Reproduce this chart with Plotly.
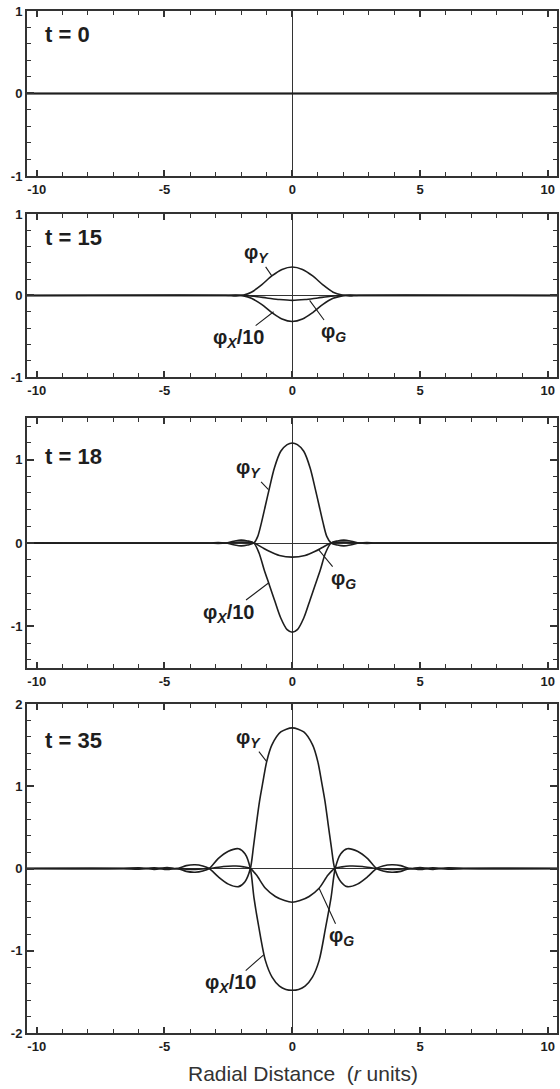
import plotly.graph_objects as go

# ── Profiles (phi_X is shown divided by 10) ──────────────────────────────
TIMES = [0, 15, 18, 35]

R_T0 = [-10.4, 10.4]
PHI_T0 = [0.0, 0.0]

R_T15_Y = [-10.4, -2.6, -2.2, -1.9, -1.6, -1.2, -0.8, -0.4, 0, 0.4, 0.8, 1.2, 1.6, 1.95, 2.25, 2.6, 10.4]
PHI_T15_Y = [0, 0, -0.005, 0.005, 0.04, 0.13, 0.24, 0.32, 0.35, 0.32, 0.24, 0.13, 0.04, 0.005, -0.005, 0, 0]
R_T15_X = [-10.4, -2.6, -2.2, -1.9, -1.6, -1.2, -0.8, -0.4, 0, 0.4, 0.8, 1.2, 1.6, 1.95, 2.25, 2.6, 10.4]
PHI_T15_X = [0, 0, 0.005, -0.005, -0.035, -0.11, -0.21, -0.29, -0.32, -0.29, -0.21, -0.11, -0.035, -0.005, 0.005, 0, 0]
R_T15_G = [-10.4, -1.9, -1.5, -1.0, -0.5, 0, 0.5, 1.0, 1.5, 1.9, 10.4]
PHI_T15_G = [0, 0, -0.01, -0.03, -0.05, -0.06, -0.05, -0.03, -0.01, 0, 0]

R_T18_Y = [-10.4, -3.3, -2.9, -2.6, -2.3, -2.0, -1.75, -1.5, -1.35, -1.2, -1.05, -0.9, -0.7, -0.45, -0.2, 0,
           0.2, 0.45, 0.7, 0.9, 1.05, 1.2, 1.35, 1.52, 1.77, 2.02, 2.32, 2.62, 2.92, 3.3, 10.4]
PHI_T18_Y = [0, 0, 0.004, 0, -0.02, -0.035, -0.025, 0, 0.08, 0.25, 0.45, 0.65, 0.9, 1.1, 1.18, 1.2,
             1.18, 1.1, 0.9, 0.65, 0.45, 0.25, 0.08, 0, -0.025, -0.035, -0.02, 0, 0.004, 0, 0]
R_T18_X = [-10.4, -3.3, -2.9, -2.6, -2.3, -2.0, -1.75, -1.5, -1.3, -1.1, -0.9, -0.7, -0.45, -0.2, 0,
           0.2, 0.45, 0.7, 0.9, 1.1, 1.3, 1.52, 1.77, 2.02, 2.32, 2.62, 2.92, 3.3, 10.4]
PHI_T18_X = [0, 0, -0.004, 0, 0.02, 0.035, 0.025, 0, -0.12, -0.32, -0.5, -0.68, -0.9, -1.04, -1.07,
             -1.04, -0.9, -0.68, -0.5, -0.32, -0.12, 0, 0.025, 0.035, 0.02, 0, -0.004, 0, 0]
R_T18_G = [-10.4, -2.6, -2.0, -1.5, -1.2, -0.9, -0.5, 0, 0.5, 0.9, 1.2, 1.52, 2.02, 2.62, 10.4]
PHI_T18_G = [0, 0, 0.01, 0, -0.05, -0.1, -0.15, -0.17, -0.15, -0.1, -0.05, 0, 0.01, 0, 0]

R_T35_Y = [-10.4, -6.6, -6.0, -5.4, -4.9, -4.5, -4.15, -3.8, -3.5, -3.25, -2.9, -2.5, -2.1, -1.85, -1.64,
           -1.52, -1.4, -1.28, -1.15, -1.0, -0.8, -0.45, 0, 0.45, 0.8, 1.0, 1.15, 1.28, 1.4, 1.53, 1.66,
           1.9, 2.15, 2.55, 2.95, 3.3, 3.55, 3.9, 4.25, 4.6, 5.0, 5.5, 6.1, 6.7, 10.4]
PHI_T35_Y = [0, 0, 0.008, -0.01, 0.012, 0, 0.035, 0.045, 0.03, 0, -0.1, -0.19, -0.22, -0.16, 0,
             0.26, 0.55, 0.82, 1.05, 1.3, 1.5, 1.66, 1.71, 1.66, 1.5, 1.3, 1.05, 0.82, 0.55, 0.26, 0,
             -0.16, -0.22, -0.19, -0.1, 0, 0.03, 0.045, 0.035, 0, 0.012, -0.01, 0.008, 0, 0]
R_T35_X = [-10.4, -6.6, -6.0, -5.4, -4.9, -4.5, -4.15, -3.8, -3.5, -3.25, -2.9, -2.5, -2.1, -1.85, -1.64,
           -1.5, -1.31, -1.05, -0.79, -0.5, -0.25, 0, 0.25, 0.5, 0.79, 1.05, 1.31, 1.52, 1.68, 1.9, 2.15,
           2.55, 2.95, 3.3, 3.55, 3.9, 4.25, 4.6, 5.0, 5.5, 6.1, 6.7, 10.4]
PHI_T35_X = [0, 0, -0.008, 0.01, -0.012, 0, -0.035, -0.045, -0.03, 0, 0.12, 0.21, 0.24, 0.18, 0,
             -0.35, -0.71, -1.12, -1.32, -1.43, -1.47, -1.48, -1.47, -1.43, -1.32, -1.12, -0.71, -0.35, 0, 0.18, 0.24,
             0.21, 0.12, 0, -0.03, -0.045, -0.035, 0, -0.012, 0.01, -0.008, 0, 0]
R_T35_G = [-10.4, -5.0, -4.3, -3.8, -3.25, -2.7, -2.2, -1.9, -1.64, -1.4, -1.05, -0.66, -0.3, 0,
           0.3, 0.66, 1.05, 1.4, 1.66, 1.95, 2.25, 2.75, 3.3, 3.85, 4.35, 5.0, 10.4]
PHI_T35_G = [0, 0, -0.005, -0.01, 0, 0.025, 0.03, 0.02, 0, -0.08, -0.24, -0.34, -0.39, -0.41,
             -0.39, -0.34, -0.24, -0.08, 0, 0.02, 0.03, 0.025, 0, -0.01, -0.005, 0, 0]

X_TICKS = [-10, -5, 0, 5, 10]
X_TICK_TEXT = ["-10", "-5", "0", "5", "10"]
Y_TICKS = [[-1, 0, 1], [-1, 0, 1], [-1, 0, 1], [-2, -1, 0, 1, 2]]
Y_TICK_TEXT = [["-1", "0", "1"], ["-1", "0", "1"], ["-1", "0", "1"], ["-2", "-1", "0", "1", "2"]]

CURVES = [
    [(R_T0, PHI_T0), (R_T0, PHI_T0), (R_T0, PHI_T0)],
    [(R_T15_Y, PHI_T15_Y), (R_T15_X, PHI_T15_X), (R_T15_G, PHI_T15_G)],
    [(R_T18_Y, PHI_T18_Y), (R_T18_X, PHI_T18_X), (R_T18_G, PHI_T18_G)],
    [(R_T35_Y, PHI_T35_Y), (R_T35_X, PHI_T35_X), (R_T35_G, PHI_T35_G)],
]

# ── Layout constants ─────────────────────────────────────────────────────
INK = "#1e1e1e"
FRAME = "#333333"
FONT = "Liberation Sans, Arial, sans-serif"
DOMAINS = [[0.8386, 1.0], [0.6419, 0.8014], [0.3571, 0.6018], [0.0, 0.3219]]
Y_RANGES = [[-1, 1], [-1, 1], [-1.5, 1.5], [-2, 2]]
X_RANGE = [-10.38, 10.36]
T_LABEL_Y = [0.72, 0.71, 1.04, 1.56]

# label text position -> point on curve the leader touches
LABELS = {
    1: [("φ<sub><i>Y</i></sub>", (-1.39, 0.51), (-0.80, 0.24)),
        ("φ<sub><i>X</i></sub>/10", (-2.09, -0.53), (-0.73, -0.20)),
        ("φ<sub><i>G</i></sub>", (1.62, -0.46), (0.68, -0.06))],
    2: [("φ<sub><i>Y</i></sub>", (-1.70, 0.89), (-0.93, 0.64)),
        ("φ<sub><i>X</i></sub>/10", (-2.48, -0.84), (-0.93, -0.48)),
        ("φ<sub><i>G</i></sub>", (2.0, -0.44), (1.03, -0.08))],
    3: [("φ<sub><i>Y</i></sub>", (-1.70, 1.58), (-1.0, 1.3)),
        ("φ<sub><i>X</i></sub>/10", (-2.40, -1.40), (-1.12, -1.05)),
        ("φ<sub><i>G</i></sub>", (1.93, -0.83), (1.05, -0.24))],
}

fig = go.Figure()
layout = {}
annotations = []

for i, t in enumerate(TIMES):
    n = "" if i == 0 else str(i + 1)
    xa, ya = "x" + n, "y" + n
    for r, phi in CURVES[i]:
        fig.add_trace(go.Scatter(
            x=r, y=phi, xaxis=xa, yaxis=ya, mode="lines",
            line=dict(color=INK, width=1.6, shape="spline", smoothing=0.8),
            hoverinfo="skip", showlegend=False,
        ))

    layout["xaxis" + n] = dict(
        domain=[0, 1], anchor=ya, range=X_RANGE,
        tickvals=X_TICKS, ticktext=X_TICK_TEXT,
        ticks="inside", ticklen=6, tickwidth=1.5, tickcolor=FRAME,
        minor=dict(ticks="inside", dtick=1, tick0=0, ticklen=4, tickwidth=1.2, tickcolor=FRAME),
        showline=True, linewidth=2, linecolor=FRAME, mirror="ticks",
        showgrid=False, zeroline=True, zerolinecolor=FRAME, zerolinewidth=1.2,
        tickfont=dict(family=FONT, size=13, color=INK, weight="bold"),
        automargin=False, fixedrange=True,
    )
    layout["yaxis" + n] = dict(
        domain=DOMAINS[i], anchor=xa, range=Y_RANGES[i],
        tickvals=Y_TICKS[i], ticktext=Y_TICK_TEXT[i],
        ticks="inside", ticklen=7, tickwidth=1.5, tickcolor=FRAME,
        minor=dict(ticks="inside", dtick=0.2, tick0=0, ticklen=4, tickwidth=1.2, tickcolor=FRAME),
        showline=True, linewidth=2, linecolor=FRAME, mirror="ticks",
        showgrid=False, zeroline=True, zerolinecolor=FRAME, zerolinewidth=1.2,
        tickfont=dict(family=FONT, size=13, color=INK, weight="bold"),
        automargin=False, fixedrange=True,
    )

    annotations.append(dict(
        x=-9.75, y=T_LABEL_Y[i], xref=xa, yref=ya, xanchor="left", yanchor="middle",
        text=f"t = {t}", showarrow=False,
        font=dict(family=FONT, size=22, color=INK, weight="bold"),
    ))

    for text, (tx, ty), (px, py) in LABELS.get(i, []):
        annotations.append(dict(
            x=px, y=py, xref=xa, yref=ya, ax=tx, ay=ty, axref=xa, ayref=ya,
            text=text, showarrow=True, arrowhead=0, arrowwidth=1.1, arrowcolor=INK,
            standoff=0, borderpad=0,
            font=dict(family=FONT, size=20, color=INK, weight="bold"),
        ))

# axis title, placed in pixels below the bottom panel
plot_w, plot_h = 560 - 27 - 3, 1089 - 11 - 56
annotations.append(dict(
    x=(303 - 27) / plot_w, y=-(1073 - 1033) / plot_h,
    xref="paper", yref="paper", xanchor="center", yanchor="middle", showarrow=False,
    text="Radial Distance\u00a0\u00a0(<i>r</i>\u00a0units)",
    font=dict(family=FONT, size=21, color="#333333"),
))

fig.update_layout(**layout)
fig.update_layout(
    width=560, height=1089,
    margin=dict(l=27, r=3, t=11, b=56),
    paper_bgcolor="white", plot_bgcolor="white",
    annotations=annotations,
    showlegend=False,
)

fig.write_html(
    "out.html",
    config={"displayModeBar": False},
    post_script="document.body.style.margin='0';document.body.style.overflow='hidden';",
)
